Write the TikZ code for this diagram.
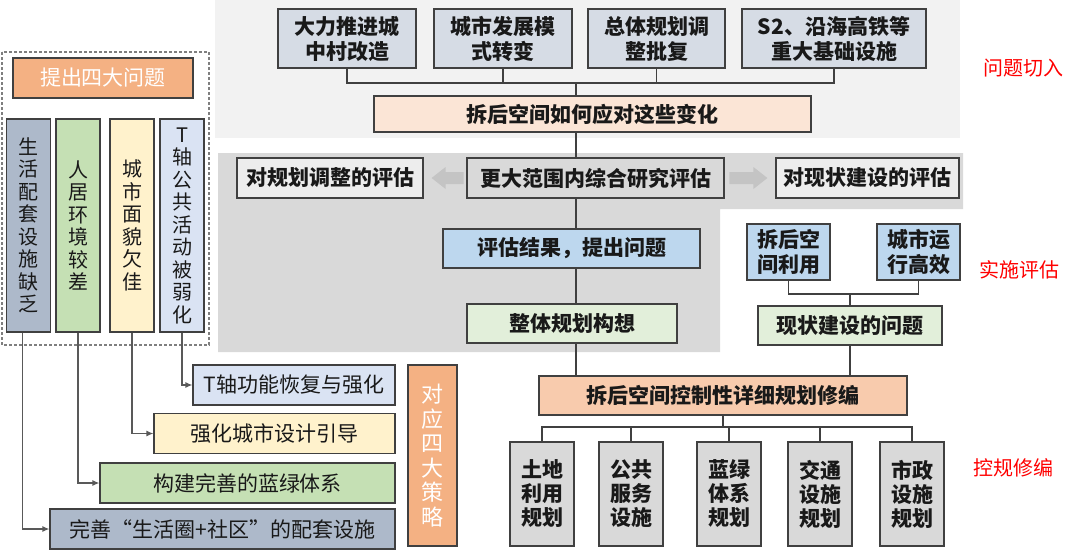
\documentclass[tikz,border=0pt]{standalone}
\usepackage{fontspec}
\setmainfont{Noto Sans CJK SC}
\usetikzlibrary{arrows.meta}
\definecolor{linegray}{HTML}{404040}
\definecolor{feedgray}{HTML}{595959}
\definecolor{dashgray}{HTML}{7F7F7F}
\definecolor{panelA}{HTML}{F2F2F2}
\definecolor{panelB}{HTML}{D9D9D9}
\definecolor{rowblue}{HTML}{D6DCE5}
\definecolor{peachlight}{HTML}{FBE5D6}
\definecolor{lightbox}{HTML}{EDEDED}
\definecolor{bluebox}{HTML}{BDD7EE}
\definecolor{greenbox}{HTML}{E2EFDA}
\definecolor{peach}{HTML}{F8CBAD}
\definecolor{orangebox}{HTML}{F4B183}
\definecolor{slate}{HTML}{ADB9CA}
\definecolor{leaf}{HTML}{C5E0B4}
\definecolor{cream}{HTML}{FFF2CC}
\definecolor{paleblue}{HTML}{DAE3F3}
\definecolor{arrowfill}{HTML}{C4C4C4}
\newcommand{\planfont}{\fontsize{21}{25}\selectfont\bfseries}
\newcommand{\bottomfont}{\fontsize{21}{24}\selectfont\bfseries}
\newcommand{\plainfont}{\fontsize{21}{25}\selectfont}
\newcommand{\colfont}{\fontsize{20}{22.5}\selectfont}
\newcommand{\stratfont}{\fontsize{22}{24.5}\selectfont}
\begin{document}
\begin{tikzpicture}[x=1pt,y=-1pt,
  box/.style={draw=linegray,line width=1.2pt,inner sep=0pt,align=center,text=black!90},
  plan/.style={box,font=\planfont},
  tall/.style={box,font=\colfont,minimum width=44pt,minimum height=213pt},
  remedy/.style={box,font=\plainfont,minimum height=40pt},
  link/.style={draw=linegray,line width=1.2pt},
  feed/.style={draw=feedgray,line width=1.2pt,-{Latex[length=7pt,width=6pt]}},
  tag/.style={text=red,font=\fontsize{20}{24}\selectfont}
]
  \useasboundingbox (0,0) rectangle (1080,555);
  \fill [panelA] (215,0) rectangle (960,138);
  \fill [panelB]
    (218,153)
    -- ++(745,0)
    -- ++(0,56)
    -- ++(-243,0)
    -- ++(0,143)
    -- ++(-502,0)
    -- cycle
  ;
  \node [plan,fill=rowblue,minimum width=138pt,minimum height=59pt] (push) at (347,38.5) {大力推进城\\中村改造};
  \node [plan,fill=rowblue,minimum width=138pt,minimum height=59pt] (mode) at (503,38.5) {城市发展模\\式转变};
  \node [plan,fill=rowblue,minimum width=137pt,minimum height=59pt] (master) at (656.5,38.5) {总体规划调\\整批复};
  \node [plan,fill=rowblue,minimum width=184pt,minimum height=59pt] (infra) at (834,38.5) {S2、沿海高铁等\\重大基础设施};
  \node [plan,fill=peachlight,minimum width=437pt,minimum height=36pt] (react) at (592.5,114) {拆后空间如何应对这些变化};
  \node [plan,fill=lightbox,minimum width=186pt,minimum height=40pt] (adjust) at (330,178) {对规划调整的评估};
  \node [plan,fill=panelB,minimum width=257pt,minimum height=40pt] (wide) at (595.5,178) {更大范围内综合研究评估};
  \node [plan,fill=lightbox,minimum width=183pt,minimum height=40pt] (status) at (867.5,178) {对现状建设的评估};
  \node [plan,fill=bluebox,minimum width=257pt,minimum height=39pt] (result) at (571.5,248.5) {评估结果，提出问题};
  \node [plan,fill=greenbox,minimum width=210pt,minimum height=39pt] (idea) at (572,323.5) {整体规划构想};
  \node [plan,fill=bluebox,minimum width=83pt,minimum height=56pt] (reuse) at (788.5,252) {拆后空\\间利用};
  \node [plan,fill=bluebox,minimum width=83pt,minimum height=56pt] (city) at (918.5,252) {城市运\\行高效};
  \node [plan,fill=greenbox,minimum width=184pt,minimum height=39pt] (defect) at (850,325.5) {现状建设的问题};
  \node [plan,fill=peach,minimum width=368pt,minimum height=39pt] (revise) at (723,395.5) {拆后空间控制性详细规划修编};
  \foreach \name/\x/\txt in {land/542/{土地\\利用\\规划},service/631/{公共\\服务\\设施},ecoplan/729/{蓝绿\\体系\\规划},traffic/820/{交通\\设施\\规划},utility/912/{市政\\设施\\规划}}{
    \node [box,font=\bottomfont,fill=panelB,minimum width=64pt,minimum height=104pt] (\name) at (\x,494) {\txt};
  }
  \fill [arrowfill]
    ([xshift=8pt]adjust.east)
    -- ++(14,-11)
    -- ++(0,5)
    -- ++(18,0)
    -- ++(0,12)
    -- ++(-18,0)
    -- ++(0,5)
    -- cycle
  ;
  \fill [arrowfill]
    ([xshift=-8pt]status.west)
    -- ++(-14,-11)
    -- ++(0,5)
    -- ++(-24,0)
    -- ++(0,12)
    -- ++(24,0)
    -- ++(0,5)
    -- cycle
  ;
  \coordinate (topbus) at (576,83);
  \foreach \n in {push,mode,master,infra}{
    \draw [link] (\n.south) |- (topbus);
  }
  \draw [link] (topbus) -- (topbus |- react.north);
  \draw [link] (topbus |- react.south) -- (topbus |- wide.north);
  \draw [link] (topbus |- wide.south) -- (topbus |- result.north);
  \draw [link] (topbus |- result.south) -- (topbus |- idea.north);
  \draw [link] (topbus |- idea.south) -- (topbus |- revise.north);
  \coordinate (rightbus) at (850,294);
  \draw [link] (reuse.south) |- (rightbus -| city.south) -- (city.south);
  \draw [link] (rightbus) -- (defect.north);
  \draw [link] (defect.south) -- (defect.south |- revise.north);
  \coordinate (lowbus) at (723,427);
  \draw [link] (revise.south) -- (lowbus);
  \foreach \n in {land,service,ecoplan,traffic,utility}{
    \draw [link] (\n.north) |- (lowbus);
  }
  \node [box,fill=orangebox,text=white,font=\stratfont,minimum width=49pt,minimum height=181pt] (four) at (432.5,455.5) {对\\应\\四\\大\\策\\略};
  \draw [dashgray,line width=1.2pt,dash pattern=on 3pt off 2pt] (2,52) rectangle (209,345);
  \node [box,fill=orangebox,text=white,font=\plainfont,minimum width=180pt,minimum height=40pt] (issues) at (103,78) {提出四大问题};
  \node [tall,fill=slate] (life) at (28.5,225.5) {生\\活\\配\\套\\设\\施\\缺\\乏};
  \node [tall,fill=leaf] (living) at (78,225.5) {人\\居\\环\\境\\较\\差};
  \node [tall,fill=cream] (looks) at (132,225.5) {城\\市\\面\\貌\\欠\\佳};
  \node [tall,fill=paleblue] (axis) at (182,225.5) {T\\轴\\公\\共\\活\\动\\被\\弱\\化};
  \node [remedy,fill=paleblue,minimum width=202pt] (axisfix) at (294,385) {T轴功能恢复与强化};
  \node [remedy,fill=cream,minimum width=241pt] (design) at (274.5,433.5) {强化城市设计引导};
  \node [remedy,fill=leaf,minimum width=295pt] (ecology) at (247.5,483) {构建完善的蓝绿体系};
  \node [remedy,fill=slate,minimum width=345pt] (supply) at (222.5,529) {完善“生活圈+社区”的配套设施};
  \draw [feed] (axis.south) |- (axisfix.west);
  \draw [feed] (looks.south) |- (design.west);
  \draw [feed] (living.south) |- (ecology.west);
  \draw [feed] ([xshift=-6pt]life.south) |- (supply.west);
  \node [tag] (cut) at (1023,68) {问题切入};
  \node [tag] (check) at (1019,270) {实施评估};
  \node [tag] (edit) at (1013,468) {控规修编};
\end{tikzpicture}
\end{document}
